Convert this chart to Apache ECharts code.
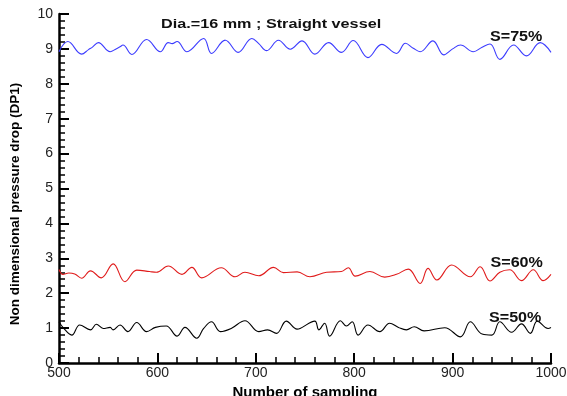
<!DOCTYPE html>
<html><head><meta charset="utf-8">
<script src="https://cdn.jsdelivr.net/npm/echarts@6/dist/echarts.min.js"></script>
<style>html,body{margin:0;padding:0;background:#fff}#c{width:567px;height:396px}</style>
</head><body><div id="c"></div>
<script>
const xTicks = [500, 600, 700, 800, 900, 1000];
const yTicks = [0,1,2,3,4,5,6,7,8,9,10];
const s75 = [[500,8.92],[509,9.21],[523,8.85],[530,8.98],[534,9.05],[540,9.18],[552,8.92],[558,9.0],[562,9.06],[565,9.11],[574,8.84],[589,9.27],[603,8.92],[611,9.18],[615,9.15],[620,9.21],[630,8.92],[647,9.30],[655,8.87],[669,9.25],[682,8.90],[696,9.30],[703,9.15],[711,8.95],[723,9.25],[735,8.99],[747,9.23],[760,8.85],[774,9.18],[787,8.90],[799,9.24],[814,8.75],[828,9.13],[843,8.87],[852,9.16],[860,9.02],[867,8.92],[880,9.23],[891,8.83],[900,9.0],[908,9.11],[921,8.92],[930,9.05],[938,9.14],[948,8.70],[962,9.11],[975,8.80],[989,9.18],[1000,8.90]];
const s60 = [[500,2.68],[504,2.54],[510,2.58],[516,2.55],[523,2.43],[532,2.64],[543,2.44],[555,2.84],[567,2.33],[579,2.66],[592,2.62],[599,2.60],[611,2.78],[625,2.54],[635,2.74],[645,2.44],[665,2.73],[679,2.47],[689,2.60],[703,2.50],[718,2.74],[728,2.59],[742,2.61],[755,2.47],[772,2.60],[787,2.62],[794,2.73],[801,2.49],[816,2.62],[831,2.46],[843,2.54],[855,2.69],[867,2.28],[875,2.71],[884,2.38],[899,2.81],[918,2.47],[928,2.76],[938,2.35],[948,2.60],[958,2.67],[970,2.36],[982,2.67],[992,2.36],[1000,2.54]];
const s50 = [[500,1.18],[504,1.02],[513,0.80],[521,1.09],[532,0.95],[538,1.11],[545,0.99],[552,1.02],[555,0.95],[562,1.09],[570,0.90],[579,1.16],[589,0.90],[598,1.02],[609,1.06],[620,0.77],[628,1.02],[640,0.71],[647,0.99],[655,1.18],[664,0.90],[675,0.99],[689,1.21],[703,0.90],[712,0.95],[721,0.85],[731,1.20],[742,0.97],[745,0.99],[760,1.20],[764,0.95],[770,1.14],[775,0.77],[786,1.21],[792,1.06],[798,1.18],[804,0.80],[814,1.09],[826,0.90],[836,1.14],[845,1.02],[853,0.95],[861,1.04],[871,0.92],[892,1.01],[908,0.75],[918,1.18],[930,0.83],[940,0.80],[948,1.18],[960,0.88],[970,1.12],[979,0.85],[986,1.20],[997,0.99],[1000,1.02]];
const title = 'Dia.=16 mm ; Straight vessel';
const labels = ['S=75%','S=60%','S=50%'];
const yName = 'Non dimensional pressure drop (DP1)';
const xName = 'Number of sampling';
const font = '"Liberation Sans", Arial, Helvetica, sans-serif';
const chart = echarts.init(document.getElementById('c'));
function axisParts(margin){
  return {
    axisLine:{show:true,onZero:false,lineStyle:{color:'#000',width:2.5}},
    axisTick:{show:true,inside:true,length:10,lineStyle:{color:'#000',width:2}},
    minorTick:{show:true,splitNumber:5,length:6,lineStyle:{color:'#000',width:1.5}},
    splitLine:{show:false},
    axisLabel:{show:true,color:'#222',fontSize:14,fontFamily:font,margin:margin,formatter:function(v){return String(v);}}
  };
}
function mk(data,color){return {type:'line',data:data,symbol:'none',smooth:0.4,lineStyle:{color:color,width:1.1},animation:false};}
function lab(text,x,y,size,sx){return {type:'text',x:x,y:y,scaleX:sx,z:10,style:{text:text,font:'bold '+size+'px '+font,fill:'#111',align:'left',verticalAlign:'middle'}};}
chart.setOption({
  backgroundColor:'#fff',
  animation:false,
  grid:{left:59,right:16,top:14,bottom:33,containLabel:false,outerBoundsMode:'none'},
  xAxis:Object.assign({type:'value',position:'bottom',min:xTicks[0],max:xTicks[xTicks.length-1],interval:100,
    name:xName,nameLocation:'middle',nameGap:15,
    nameTextStyle:{fontWeight:'bold',fontSize:15,color:'#000',fontFamily:font,verticalAlign:'top'}},axisParts(3)),
  yAxis:Object.assign({type:'value',position:'left',min:yTicks[0],max:yTicks[yTicks.length-1],interval:1,
    name:'',nameTextStyle:{fontSize:1}},axisParts(6)),
  series:[mk(s75,'#3b3bff'),mk(s60,'#e01b1b'),mk(s50,'#000000')],
  graphic:[
    lab(title,161,24,13.5,1.2),
    lab(labels[0],490,36.7,14,1.15),
    lab(labels[1],490.5,263,14,1.15),
    lab(labels[2],489,317.7,14,1.15),
    {type:'text',x:15.5,y:204,rotation:Math.PI/2,scaleX:1.08,z:10,style:{text:yName,font:'bold 12.5px '+font,fill:'#000',align:'center',verticalAlign:'middle'}}
  ]
});
</script></body></html>
